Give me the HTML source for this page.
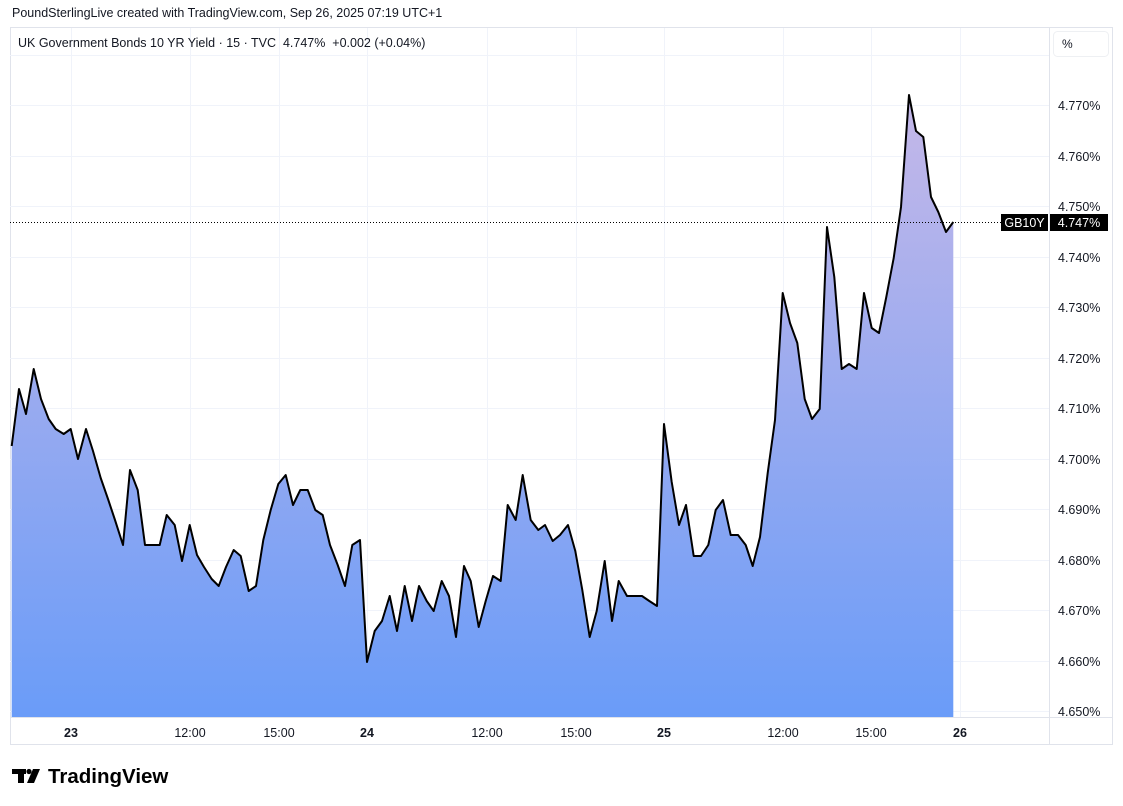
<!DOCTYPE html>
<html><head><meta charset="utf-8"><style>
body{margin:0;background:#fff;}
svg{display:block;font-family:"Liberation Sans",Arial,sans-serif;}
</style></head><body>
<svg width="1123" height="806" viewBox="0 0 1123 806" xmlns="http://www.w3.org/2000/svg">
<defs>
<linearGradient id="g" x1="0" y1="95" x2="0" y2="717" gradientUnits="userSpaceOnUse">
<stop offset="0" stop-color="#c5b8e8"/>
<stop offset="1" stop-color="#6a9cf8"/>
</linearGradient>
</defs>
<rect width="1123" height="806" fill="#fff"/>
<text x="12" y="17" font-size="12.5" fill="#131722">PoundSterlingLive created with TradingView.com, Sep 26, 2025 07:19 UTC+1</text>
<rect x="10.5" y="27.5" width="1102" height="717" fill="none" stroke="#e0e3eb"/>
<line x1="1049.5" y1="27" x2="1049.5" y2="745" stroke="#e0e3eb"/>
<line x1="10" y1="717.5" x2="1113" y2="717.5" stroke="#e0e3eb"/>
<g stroke="#f0f3fa" stroke-width="1">
<line x1="10" y1="55.5" x2="1049" y2="55.5"/>
<line x1="10" y1="105.5" x2="1049" y2="105.5"/>
<line x1="10" y1="156.5" x2="1049" y2="156.5"/>
<line x1="10" y1="206.5" x2="1049" y2="206.5"/>
<line x1="10" y1="257.5" x2="1049" y2="257.5"/>
<line x1="10" y1="307.5" x2="1049" y2="307.5"/>
<line x1="10" y1="358.5" x2="1049" y2="358.5"/>
<line x1="10" y1="408.5" x2="1049" y2="408.5"/>
<line x1="10" y1="459.5" x2="1049" y2="459.5"/>
<line x1="10" y1="509.5" x2="1049" y2="509.5"/>
<line x1="10" y1="560.5" x2="1049" y2="560.5"/>
<line x1="10" y1="610.5" x2="1049" y2="610.5"/>
<line x1="10" y1="661.5" x2="1049" y2="661.5"/>
<line x1="10" y1="711.5" x2="1049" y2="711.5"/>
<line x1="71.5" y1="28" x2="71.5" y2="717"/>
<line x1="190.5" y1="28" x2="190.5" y2="717"/>
<line x1="279.5" y1="28" x2="279.5" y2="717"/>
<line x1="367.5" y1="28" x2="367.5" y2="717"/>
<line x1="487.5" y1="28" x2="487.5" y2="717"/>
<line x1="576.5" y1="28" x2="576.5" y2="717"/>
<line x1="664.5" y1="28" x2="664.5" y2="717"/>
<line x1="783.5" y1="28" x2="783.5" y2="717"/>
<line x1="871.5" y1="28" x2="871.5" y2="717"/>
<line x1="960.5" y1="28" x2="960.5" y2="717"/>
</g>
<text x="18" y="47" font-size="12.5" fill="#131722" xml:space="preserve" style="white-space:pre">UK Government Bonds 10 YR Yield · 15 · TVC  4.747%  +0.002 (+0.04%)</text>
<path id="ln" d="M11.7,446 L19,389 26,414 33.7,369 41,399 48.7,419 55.7,429 63.7,434 70.7,429 78,459 86,429 93,451 100.7,478 108,499 115,520 123,545 130,470 137.7,490 145,545 159.7,545 166.7,515 174.7,525 182,561 189.7,525 197,555 204,567 211.7,579 218.7,586 226,567 233.7,550 240.7,556 248.7,591 256,586 263.3,540 270.7,510 278.3,484 285.7,475 293,505 300.3,490 307.7,490 315.3,510 322.7,515 330,545 337.7,565 345,586 352.3,545 360,540 367,662 374.7,631 382,621 389.7,596 397,631 404.7,586 412,621 419,586 426.7,601 433.7,611 441.7,581 449,596 456,637 464,566 470.7,581 478.7,627 485.7,601 493,576 500.7,581 507.7,505 515.7,520 522.7,475 530.7,520 538.3,530 545,525 552.7,541 560,535 568,525 575.3,551 582.3,590 589.7,637 596.7,611 604.7,561 612,621 618.7,581 627,596 642,596 649.3,601 657,606 664,424 671.7,482 679,525 686,505 693.7,556 701,556 708.3,545 715.7,510 723,500 730.7,535 738,535 745.7,545 752.7,566 760,537 767.7,473 775,420 782.7,293 790,323 797.3,343 804.7,399 812,419 819.7,409 827,227 834.3,277 841.7,369 849,364 856.7,369 864,293 871.7,328 879,333 886.3,297 893.7,258 901,207 909,95 916,131 923.3,137 931,197 938.3,212 946,232 953.3,222" fill="none"/>
<path d="M11.7,717 L11.7,446 L19,389 26,414 33.7,369 41,399 48.7,419 55.7,429 63.7,434 70.7,429 78,459 86,429 93,451 100.7,478 108,499 115,520 123,545 130,470 137.7,490 145,545 159.7,545 166.7,515 174.7,525 182,561 189.7,525 197,555 204,567 211.7,579 218.7,586 226,567 233.7,550 240.7,556 248.7,591 256,586 263.3,540 270.7,510 278.3,484 285.7,475 293,505 300.3,490 307.7,490 315.3,510 322.7,515 330,545 337.7,565 345,586 352.3,545 360,540 367,662 374.7,631 382,621 389.7,596 397,631 404.7,586 412,621 419,586 426.7,601 433.7,611 441.7,581 449,596 456,637 464,566 470.7,581 478.7,627 485.7,601 493,576 500.7,581 507.7,505 515.7,520 522.7,475 530.7,520 538.3,530 545,525 552.7,541 560,535 568,525 575.3,551 582.3,590 589.7,637 596.7,611 604.7,561 612,621 618.7,581 627,596 642,596 649.3,601 657,606 664,424 671.7,482 679,525 686,505 693.7,556 701,556 708.3,545 715.7,510 723,500 730.7,535 738,535 745.7,545 752.7,566 760,537 767.7,473 775,420 782.7,293 790,323 797.3,343 804.7,399 812,419 819.7,409 827,227 834.3,277 841.7,369 849,364 856.7,369 864,293 871.7,328 879,333 886.3,297 893.7,258 901,207 909,95 916,131 923.3,137 931,197 938.3,212 946,232 953.3,222 L953.3,717 Z" fill="url(#g)"/>
<use href="#ln" stroke="#000" stroke-width="2" stroke-linejoin="round"/>
<line x1="10" y1="222.5" x2="1001" y2="222.5" stroke="#000" stroke-width="1" stroke-dasharray="1,2"/>
<rect x="1053.5" y="31.5" width="55" height="25" rx="4" fill="#fff" stroke="#eef0f3"/>
<text x="1062" y="48" font-size="12" fill="#131722">%</text>
<g font-size="12.5" fill="#131722">
<text x="1058" y="110">4.770%</text>
<text x="1058" y="161">4.760%</text>
<text x="1058" y="211">4.750%</text>
<text x="1058" y="262">4.740%</text>
<text x="1058" y="312">4.730%</text>
<text x="1058" y="363">4.720%</text>
<text x="1058" y="413">4.710%</text>
<text x="1058" y="464">4.700%</text>
<text x="1058" y="514">4.690%</text>
<text x="1058" y="565">4.680%</text>
<text x="1058" y="615">4.670%</text>
<text x="1058" y="666">4.660%</text>
<text x="1058" y="716">4.650%</text>
</g>
<rect x="1001" y="214" width="47" height="17" fill="#000"/>
<text x="1024.5" y="227" font-size="12.5" fill="#fff" text-anchor="middle">GB10Y</text>
<rect x="1050" y="214" width="58" height="17" fill="#000"/>
<text x="1079" y="227" font-size="12.5" fill="#fff" text-anchor="middle">4.747%</text>
<g font-size="12.5" fill="#131722" text-anchor="middle">
<text x="71" y="737" font-weight="bold">23</text>
<text x="190" y="737">12:00</text>
<text x="279" y="737">15:00</text>
<text x="367" y="737" font-weight="bold">24</text>
<text x="487" y="737">12:00</text>
<text x="576" y="737">15:00</text>
<text x="664" y="737" font-weight="bold">25</text>
<text x="783" y="737">12:00</text>
<text x="871" y="737">15:00</text>
<text x="960" y="737" font-weight="bold">26</text>
</g>
<g fill="#000">
<rect x="12" y="769" width="14" height="5"/>
<rect x="18" y="769" width="6" height="14"/>
<circle cx="29" cy="771.5" r="2.6"/>
<polygon points="33,769 40,769 34,783 27,783"/>
</g>
<text x="48" y="783" font-size="20.5" font-weight="bold" fill="#000">TradingView</text>
</svg>
</body></html>
